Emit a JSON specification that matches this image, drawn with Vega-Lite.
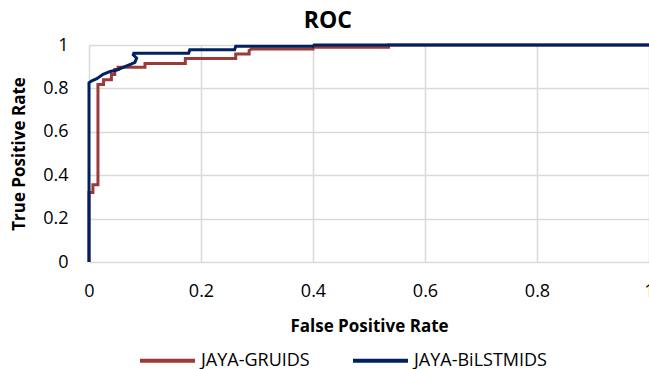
{
  "$schema": "https://vega.github.io/schema/vega-lite/v6.json",
  "width": 560,
  "height": 217,
  "autosize": {"type": "none"},
  "padding": {"left": 89, "top": 45, "right": 0, "bottom": 107},
  "background": "white",
  "config": {
    "font": "Open Sans, sans-serif",
    "view": {"stroke": null},
    "legend": {"padding": 0}
  },
  "title": {
    "text": "ROC",
    "fontSize": 23,
    "fontWeight": "bold",
    "color": "#000000",
    "anchor": "middle",
    "frame": "bounds",
    "dx": -5,
    "offset": 3
  },
  "data": {
    "values": [
      {"s": "JAYA-GRUIDS", "i": 1, "fpr": 0, "tpr": 0},
      {"s": "JAYA-GRUIDS", "i": 2, "fpr": 0, "tpr": 0.32},
      {"s": "JAYA-GRUIDS", "i": 3, "fpr": 0.007, "tpr": 0.32},
      {"s": "JAYA-GRUIDS", "i": 4, "fpr": 0.007, "tpr": 0.356},
      {"s": "JAYA-GRUIDS", "i": 5, "fpr": 0.016, "tpr": 0.356},
      {"s": "JAYA-GRUIDS", "i": 6, "fpr": 0.016, "tpr": 0.818},
      {"s": "JAYA-GRUIDS", "i": 7, "fpr": 0.026, "tpr": 0.818},
      {"s": "JAYA-GRUIDS", "i": 8, "fpr": 0.026, "tpr": 0.84},
      {"s": "JAYA-GRUIDS", "i": 9, "fpr": 0.04, "tpr": 0.84},
      {"s": "JAYA-GRUIDS", "i": 10, "fpr": 0.04, "tpr": 0.864},
      {"s": "JAYA-GRUIDS", "i": 11, "fpr": 0.046, "tpr": 0.864},
      {"s": "JAYA-GRUIDS", "i": 12, "fpr": 0.046, "tpr": 0.887},
      {"s": "JAYA-GRUIDS", "i": 13, "fpr": 0.052, "tpr": 0.887},
      {"s": "JAYA-GRUIDS", "i": 14, "fpr": 0.052, "tpr": 0.897},
      {"s": "JAYA-GRUIDS", "i": 15, "fpr": 0.1, "tpr": 0.897},
      {"s": "JAYA-GRUIDS", "i": 16, "fpr": 0.1, "tpr": 0.915},
      {"s": "JAYA-GRUIDS", "i": 17, "fpr": 0.172, "tpr": 0.915},
      {"s": "JAYA-GRUIDS", "i": 18, "fpr": 0.172, "tpr": 0.938},
      {"s": "JAYA-GRUIDS", "i": 19, "fpr": 0.262, "tpr": 0.938},
      {"s": "JAYA-GRUIDS", "i": 20, "fpr": 0.262, "tpr": 0.958},
      {"s": "JAYA-GRUIDS", "i": 21, "fpr": 0.286, "tpr": 0.958},
      {"s": "JAYA-GRUIDS", "i": 22, "fpr": 0.286, "tpr": 0.975},
      {"s": "JAYA-GRUIDS", "i": 23, "fpr": 0.29, "tpr": 0.982},
      {"s": "JAYA-GRUIDS", "i": 24, "fpr": 0.4, "tpr": 0.982},
      {"s": "JAYA-GRUIDS", "i": 25, "fpr": 0.4, "tpr": 0.99},
      {"s": "JAYA-GRUIDS", "i": 26, "fpr": 0.535, "tpr": 0.99},
      {"s": "JAYA-GRUIDS", "i": 27, "fpr": 0.535, "tpr": 1},
      {"s": "JAYA-GRUIDS", "i": 28, "fpr": 1, "tpr": 1},
      {"s": "JAYA-BiLSTMIDS", "i": 1, "fpr": 0, "tpr": 0},
      {"s": "JAYA-BiLSTMIDS", "i": 2, "fpr": 0, "tpr": 0.826},
      {"s": "JAYA-BiLSTMIDS", "i": 3, "fpr": 0.005, "tpr": 0.835},
      {"s": "JAYA-BiLSTMIDS", "i": 4, "fpr": 0.014, "tpr": 0.845},
      {"s": "JAYA-BiLSTMIDS", "i": 5, "fpr": 0.025, "tpr": 0.865},
      {"s": "JAYA-BiLSTMIDS", "i": 6, "fpr": 0.038, "tpr": 0.878},
      {"s": "JAYA-BiLSTMIDS", "i": 7, "fpr": 0.05, "tpr": 0.885},
      {"s": "JAYA-BiLSTMIDS", "i": 8, "fpr": 0.064, "tpr": 0.9},
      {"s": "JAYA-BiLSTMIDS", "i": 9, "fpr": 0.076, "tpr": 0.913},
      {"s": "JAYA-BiLSTMIDS", "i": 10, "fpr": 0.082, "tpr": 0.92},
      {"s": "JAYA-BiLSTMIDS", "i": 11, "fpr": 0.085, "tpr": 0.94},
      {"s": "JAYA-BiLSTMIDS", "i": 12, "fpr": 0.079, "tpr": 0.955},
      {"s": "JAYA-BiLSTMIDS", "i": 13, "fpr": 0.08, "tpr": 0.962},
      {"s": "JAYA-BiLSTMIDS", "i": 14, "fpr": 0.178, "tpr": 0.962},
      {"s": "JAYA-BiLSTMIDS", "i": 15, "fpr": 0.18, "tpr": 0.978},
      {"s": "JAYA-BiLSTMIDS", "i": 16, "fpr": 0.26, "tpr": 0.978},
      {"s": "JAYA-BiLSTMIDS", "i": 17, "fpr": 0.262, "tpr": 0.994},
      {"s": "JAYA-BiLSTMIDS", "i": 18, "fpr": 0.4, "tpr": 0.994},
      {"s": "JAYA-BiLSTMIDS", "i": 19, "fpr": 0.402, "tpr": 1},
      {"s": "JAYA-BiLSTMIDS", "i": 20, "fpr": 1, "tpr": 1}
    ]
  },
  "mark": {"type": "line", "strokeWidth": 3, "clip": false, "interpolate": "linear"},
  "encoding": {
    "x": {
      "field": "fpr",
      "type": "quantitative",
      "scale": {"domain": [0, 1], "nice": false, "zero": true},
      "axis": {
        "title": "False Positive Rate",
        "values": [0, 0.2, 0.4, 0.6, 0.8, 1],
        "format": "~g",
        "grid": true,
        "gridColor": "#d9d9d9",
        "gridWidth": 1.5,
        "domain": false,
        "ticks": false,
        "labelPadding": 20,
        "labelFontSize": 18,
        "labelColor": "#000000",
        "labelFlush": false,
        "titleFontSize": 17,
        "titleFontWeight": "bold",
        "titleColor": "#000000",
        "titlePadding": 18
      }
    },
    "y": {
      "field": "tpr",
      "type": "quantitative",
      "scale": {"domain": [0, 1], "nice": false},
      "axis": {
        "title": "True Positive Rate",
        "values": [0, 0.2, 0.4, 0.6, 0.8, 1],
        "format": "~g",
        "grid": true,
        "gridColor": "#d9d9d9",
        "gridWidth": 1.5,
        "domain": false,
        "ticks": false,
        "labelPadding": 21,
        "labelFontSize": 18,
        "labelColor": "#000000",
        "labelFlush": false,
        "titleFontSize": 17,
        "titleFontWeight": "bold",
        "titleColor": "#000000",
        "titlePadding": 14
      }
    },
    "color": {
      "field": "s",
      "type": "nominal",
      "scale": {
        "domain": ["JAYA-GRUIDS", "JAYA-BiLSTMIDS"],
        "range": ["#9b3b38", "#002060"]
      },
      "legend": {
        "title": null,
        "orient": "none",
        "legendX": 49,
        "legendY": 286,
        "direction": "horizontal",
        "symbolType": "stroke",
        "symbolSize": 3025,
        "symbolStrokeWidth": 4,
        "labelFontSize": 18,
        "labelColor": "#000000",
        "labelOffset": 4,
        "columnPadding": 35
      }
    },
    "order": {"field": "i", "type": "quantitative"}
  }
}
